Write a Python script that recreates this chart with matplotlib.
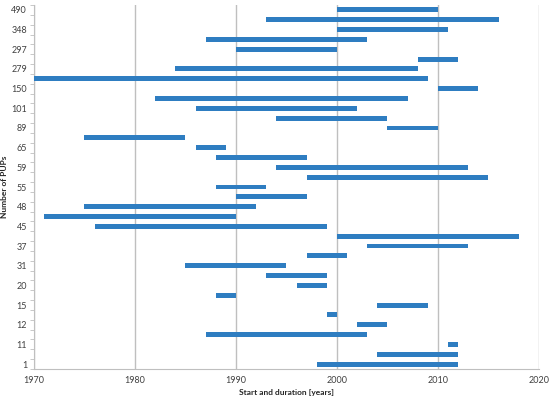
import matplotlib.pyplot as plt
import numpy as np

plt.rcParams['font.family'] = ['Lato', 'DejaVu Sans']

# bars listed from top to bottom: start year, end year
starts = [2000, 1993, 2000, 1987, 1990, 2008, 1984, 1970, 2010, 1982,
          1986, 1994, 2005, 1975, 1986, 1988, 1994, 1997, 1988, 1990,
          1975, 1971, 1976, 2000, 2003, 1997, 1985, 1993, 1996, 1988,
          2004, 1999, 2002, 1987, 2011, 2004, 1998]
ends = [2010, 2016, 2011, 2003, 2000, 2012, 2008, 2009, 2014, 2007,
        2002, 2005, 2010, 1985, 1989, 1997, 2013, 2015, 1993, 1997,
        1992, 1990, 1999, 2018, 2013, 2001, 1995, 1999, 1999, 1990,
        2009, 2000, 2005, 2003, 2012, 2012, 2012]
# labels shown on every other bar, top to bottom
pup_labels = ['490', '348', '297', '279', '150', '101', '89', '65', '59', '55',
              '48', '45', '37', '31', '20', '15', '12', '11', '1']

starts = np.array(starts[::-1])
ends = np.array(ends[::-1])
n = len(starts)
ypos = np.arange(n)

fig = plt.figure(figsize=(5.5, 3.98), dpi=100)
ax = fig.add_axes([0.0618, 0.0729, 0.9182, 0.9145])

ax.barh(ypos, ends - starts, left=starts, height=0.5, color='#2E7DC1', zorder=3)

ax.set_xlim(1970, 2020)
ax.set_ylim(-0.5, n - 0.5)
ax.set_xticks(np.arange(1970, 2021, 10))
ax.set_yticks(ypos[::2])
ax.set_yticklabels(pup_labels[::-1])
ax.set_yticks(np.arange(-0.5, n, 1), minor=True)

ax.grid(axis='x', color='#BFBFBF', linewidth=1, zorder=0)
for s in ['top', 'right']:
    ax.spines[s].set_visible(False)
for s in ['left', 'bottom']:
    ax.spines[s].set_color('#BFBFBF')

ax.tick_params(axis='y', which='major', length=0, labelsize=6.5, colors='#404040', pad=5)
ax.tick_params(axis='y', which='minor', length=3, color='#BFBFBF')
ax.tick_params(axis='x', length=0, labelsize=6.5, colors='#404040', pad=5)

ax.set_xlabel('Start and duration [years]', fontsize=6, fontweight='bold', color='#262626')
ax.xaxis.set_label_coords(0.5, -0.055)
ax.set_ylabel('Number of PUPs', fontsize=6, fontweight='bold', color='#262626')
ax.yaxis.set_label_coords(-0.052, 0.5)

fig.savefig('out.png', dpi=100)
